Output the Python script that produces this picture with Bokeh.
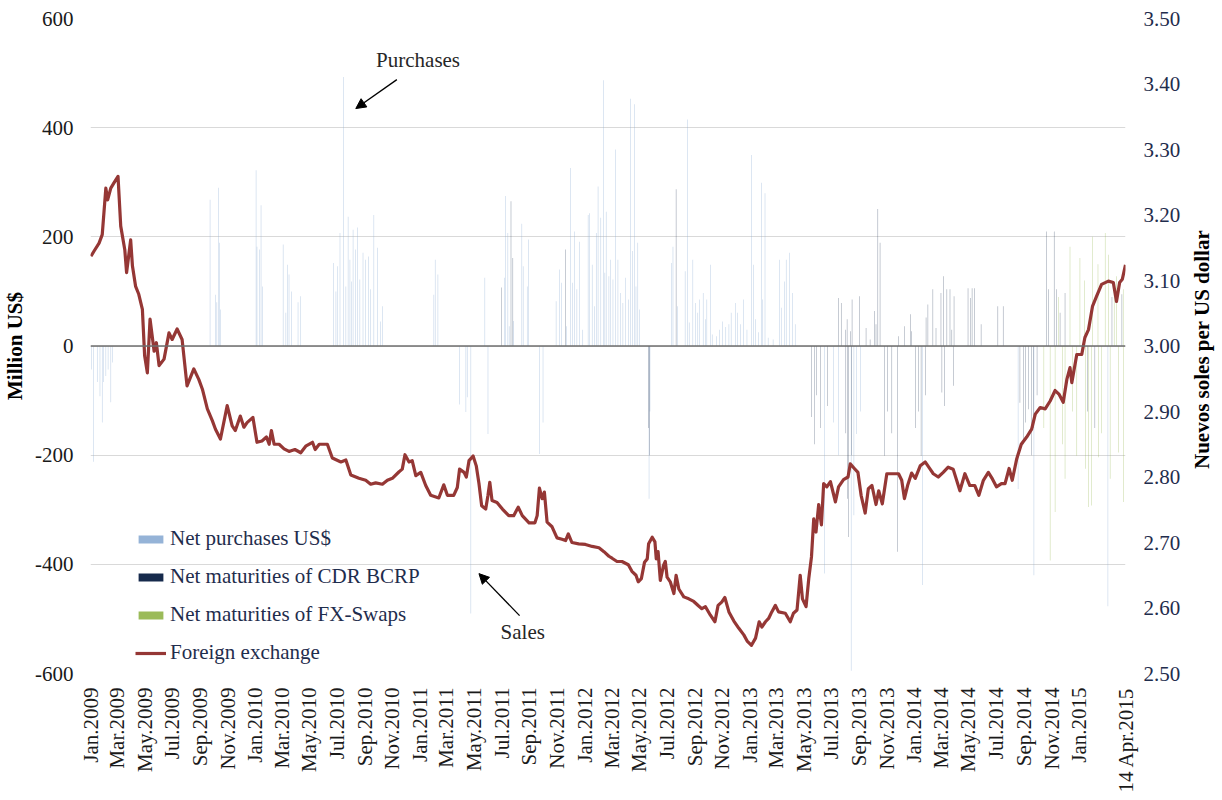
import math
import pandas as pd
from bokeh.plotting import figure
from bokeh.layouts import row
from bokeh.models import (Range1d, LinearAxis, FixedTicker, PrintfTickFormatter,
                          Legend, LegendItem, Label, Arrow, NormalHead, Span)
from bokeh.embed import file_html
from bokeh.resources import INLINE

# ---------------- data ----------------
START = "2009-01-01"
END = "2015-04-14"

x_tick_dates = [
    "2009-01-01", "2009-03-01", "2009-05-01", "2009-07-01", "2009-09-01", "2009-11-01",
    "2010-01-01", "2010-03-01", "2010-05-01", "2010-07-01", "2010-09-01", "2010-11-01",
    "2011-01-01", "2011-03-01", "2011-05-01", "2011-07-01", "2011-09-01", "2011-11-01",
    "2012-01-01", "2012-03-01", "2012-05-01", "2012-07-01", "2012-09-01", "2012-11-01",
    "2013-01-01", "2013-03-01", "2013-05-01", "2013-07-01", "2013-09-01", "2013-11-01",
    "2014-01-01", "2014-03-01", "2014-05-01", "2014-07-01", "2014-09-01", "2014-11-01",
    "2015-01-01", "2015-04-14",
]
x_tick_labels = [
    "Jan.2009", "Mar.2009", "May.2009", "Jul.2009", "Sep.2009", "Nov.2009",
    "Jan.2010", "Mar.2010", "May.2010", "Jul.2010", "Sep.2010", "Nov.2010",
    "Jan.2011", "Mar.2011", "May.2011", "Jul.2011", "Sep.2011", "Nov.2011",
    "Jan.2012", "Mar.2012", "May.2012", "Jul.2012", "Sep.2012", "Nov.2012",
    "Jan.2013", "Mar.2013", "May.2013", "Jul.2013", "Sep.2013", "Nov.2013",
    "Jan.2014", "Mar.2014", "May.2014", "Jul.2014", "Sep.2014", "Nov.2014",
    "Jan.2015", "14 Apr.2015",
]
left_ticks = [-600, -400, -200, 0, 200, 400, 600]
left_tick_labels = ["-600", "-400", "-200", "0", "200", "400", "600"]
right_ticks = [2.5, 2.6, 2.7, 2.8, 2.9, 3.0, 3.1, 3.2, 3.3, 3.4, 3.5]

fx_dates = [
    "2009-01-02", "2009-01-09", "2009-01-20", "2009-01-27", "2009-02-04", "2009-02-08", "2009-02-15", "2009-02-22",
    "2009-03-03", "2009-03-09", "2009-03-18", "2009-03-22", "2009-03-31", "2009-04-04", "2009-04-11", "2009-04-18",
    "2009-04-26", "2009-05-01", "2009-05-07", "2009-05-13", "2009-05-22", "2009-05-27", "2009-06-02", "2009-06-13",
    "2009-06-24", "2009-07-01", "2009-07-12", "2009-07-23", "2009-08-03", "2009-08-18", "2009-08-29", "2009-09-06",
    "2009-09-17", "2009-09-28", "2009-10-05", "2009-10-16", "2009-10-31", "2009-11-11", "2009-11-18", "2009-11-29",
    "2009-12-07", "2009-12-14", "2009-12-27",
    "2010-01-05", "2010-01-16", "2010-01-26", "2010-02-01", "2010-02-06", "2010-02-12", "2010-02-23", "2010-03-06",
    "2010-03-17", "2010-03-30", "2010-04-12", "2010-04-23", "2010-05-08", "2010-05-14", "2010-05-23", "2010-06-10",
    "2010-06-21", "2010-07-10", "2010-07-21", "2010-08-01", "2010-08-19", "2010-09-03", "2010-09-14", "2010-09-25",
    "2010-10-10", "2010-10-21", "2010-11-01", "2010-11-16", "2010-11-23", "2010-11-29", "2010-12-08", "2010-12-15",
    "2010-12-23",
    "2011-01-03", "2011-01-14", "2011-01-25", "2011-02-12", "2011-02-23", "2011-03-03", "2011-03-17", "2011-03-25",
    "2011-03-30", "2011-04-09", "2011-04-14", "2011-04-20", "2011-04-29", "2011-05-06", "2011-05-12", "2011-05-18",
    "2011-05-27", "2011-06-01", "2011-06-05", "2011-06-10", "2011-06-21", "2011-07-03", "2011-07-17", "2011-07-28",
    "2011-08-07", "2011-08-16", "2011-08-31", "2011-09-13", "2011-09-18", "2011-09-23", "2011-09-29", "2011-10-04",
    "2011-10-10", "2011-10-21", "2011-11-01", "2011-11-12", "2011-11-20", "2011-11-26", "2011-12-04", "2011-12-19",
    "2012-01-03", "2012-01-18", "2012-02-02", "2012-02-13", "2012-02-24", "2012-03-02", "2012-03-13", "2012-03-24",
    "2012-04-07", "2012-04-15", "2012-04-24", "2012-04-29", "2012-05-06", "2012-05-13", "2012-05-19", "2012-05-22",
    "2012-05-30", "2012-06-05", "2012-06-08", "2012-06-12", "2012-06-17", "2012-06-24", "2012-06-28", "2012-07-02",
    "2012-07-09", "2012-07-17", "2012-07-22", "2012-07-28", "2012-08-08", "2012-08-19", "2012-08-30", "2012-09-10",
    "2012-09-17", "2012-09-25", "2012-10-06", "2012-10-16", "2012-10-23", "2012-10-31", "2012-11-07", "2012-11-16",
    "2012-11-27", "2012-12-08", "2012-12-19", "2012-12-27",
    "2013-01-05", "2013-01-14", "2013-01-22", "2013-01-28", "2013-02-05", "2013-02-12", "2013-02-19", "2013-02-27",
    "2013-03-06", "2013-03-21", "2013-04-01", "2013-04-08", "2013-04-16", "2013-04-23", "2013-04-28", "2013-05-06",
    "2013-05-12", "2013-05-18", "2013-05-23", "2013-05-28", "2013-06-03", "2013-06-09", "2013-06-14", "2013-06-21",
    "2013-06-29", "2013-07-04", "2013-07-10", "2013-07-17", "2013-07-28", "2013-08-07", "2013-08-12", "2013-08-21",
    "2013-08-29", "2013-09-05", "2013-09-14", "2013-09-21", "2013-09-29", "2013-10-08", "2013-10-14", "2013-10-22",
    "2013-11-01", "2013-11-12", "2013-11-27", "2013-12-04", "2013-12-10", "2013-12-17", "2013-12-26",
    "2014-01-03", "2014-01-14", "2014-01-25", "2014-02-05", "2014-02-12", "2014-02-23", "2014-03-06", "2014-03-17",
    "2014-03-28", "2014-04-12", "2014-04-23", "2014-05-04", "2014-05-15", "2014-05-24", "2014-06-03", "2014-06-14",
    "2014-06-23", "2014-07-02", "2014-07-13", "2014-07-21", "2014-07-30", "2014-08-06", "2014-08-16", "2014-08-26",
    "2014-09-07", "2014-09-18", "2014-09-26", "2014-10-07", "2014-10-18", "2014-10-29", "2014-11-09", "2014-11-18",
    "2014-11-27", "2014-12-05", "2014-12-12", "2014-12-16", "2014-12-27",
    "2015-01-07", "2015-01-14", "2015-01-22", "2015-01-31", "2015-02-09", "2015-02-20", "2015-03-07", "2015-03-18",
    "2015-03-25", "2015-04-01", "2015-04-07", "2015-04-14",
]
fx_values = [
    3.137, 3.145, 3.157, 3.170, 3.241, 3.223, 3.241, 3.249,
    3.259, 3.183, 3.147, 3.112, 3.162, 3.122, 3.091, 3.079,
    3.056, 2.985, 2.959, 3.041, 2.992, 3.005, 2.970, 2.980,
    3.020, 3.010, 3.026, 3.010, 2.939, 2.965, 2.949, 2.934,
    2.904, 2.886, 2.873, 2.858, 2.909, 2.878, 2.871, 2.893,
    2.876, 2.883, 2.891,
    2.853, 2.855, 2.861, 2.850, 2.871, 2.850, 2.850, 2.843,
    2.839, 2.842, 2.837, 2.847, 2.853, 2.842, 2.850, 2.850,
    2.829, 2.823, 2.826, 2.803, 2.798, 2.795, 2.789, 2.791,
    2.789, 2.795, 2.798, 2.808, 2.812, 2.834, 2.823, 2.825,
    2.802,
    2.807, 2.787, 2.772, 2.768, 2.788, 2.772, 2.772, 2.784,
    2.812, 2.807, 2.800, 2.825, 2.832, 2.817, 2.790, 2.756,
    2.751, 2.772, 2.792, 2.764, 2.761, 2.751, 2.741, 2.741,
    2.754, 2.741, 2.730, 2.730, 2.741, 2.783, 2.767, 2.777,
    2.731, 2.724, 2.707, 2.705, 2.703, 2.713, 2.700, 2.698,
    2.697, 2.694, 2.692, 2.686, 2.679, 2.676, 2.671, 2.671,
    2.666, 2.656, 2.650, 2.640, 2.645, 2.670, 2.675, 2.698,
    2.708, 2.701, 2.675, 2.686, 2.642, 2.665, 2.671, 2.647,
    2.640, 2.622, 2.650, 2.629, 2.617, 2.614, 2.610, 2.603,
    2.599, 2.602, 2.589, 2.579, 2.604, 2.609, 2.616, 2.594,
    2.580, 2.569, 2.559, 2.549,
    2.543, 2.554, 2.579, 2.571, 2.579, 2.584, 2.594, 2.604,
    2.594, 2.592, 2.579, 2.592, 2.597, 2.650, 2.614, 2.602,
    2.645, 2.678, 2.736, 2.716, 2.758, 2.727, 2.790, 2.785,
    2.793, 2.779, 2.762, 2.785, 2.796, 2.800, 2.820, 2.813,
    2.807, 2.772, 2.745, 2.782, 2.787, 2.758, 2.779, 2.759,
    2.805, 2.805, 2.805, 2.795, 2.767, 2.787, 2.806,
    2.798, 2.817, 2.823, 2.812, 2.805, 2.800, 2.807, 2.815,
    2.812, 2.779, 2.805, 2.787, 2.787, 2.772, 2.795, 2.807,
    2.797, 2.785, 2.790, 2.790, 2.813, 2.795, 2.828, 2.850,
    2.861, 2.873, 2.896, 2.906, 2.904, 2.916, 2.932, 2.926,
    2.914, 2.949, 2.967, 2.944, 2.987,
    2.987, 3.013, 3.025, 3.061, 3.076, 3.094, 3.099, 3.097,
    3.068, 3.097, 3.102, 3.124,
]

purchase_dates = [
    "2009-01-03", "2009-01-08", "2009-01-16", "2009-01-22", "2009-01-27", "2009-01-30", "2009-02-04", "2009-02-09",
    "2009-02-15", "2009-02-19", "2009-09-23", "2009-10-05", "2009-10-08", "2009-10-12", "2009-10-14", "2009-10-16",
    "2010-01-03", "2010-01-05", "2010-01-11", "2010-01-14", "2010-01-17", "2010-03-04", "2010-03-10", "2010-03-14",
    "2010-03-17", "2010-03-22", "2010-04-06", "2010-04-12", "2010-06-24", "2010-06-29", "2010-07-03", "2010-07-08",
    "2010-07-16", "2010-07-21", "2010-07-26", "2010-07-30", "2010-08-03", "2010-08-06", "2010-08-11", "2010-08-16",
    "2010-08-21", "2010-08-28", "2010-09-03", "2010-09-09", "2010-09-14", "2010-09-21", "2010-09-29", "2010-10-06",
    "2010-10-10", "2011-02-01", "2011-02-04", "2011-02-10", "2011-03-30", "2011-04-13", "2011-04-16", "2011-04-24",
    "2011-05-25", "2011-06-01", "2011-07-08", "2011-07-10", "2011-07-15", "2011-07-18", "2011-07-28", "2011-08-15",
    "2011-08-18", "2011-08-27", "2011-08-30", "2011-09-23", "2011-10-01", "2011-10-30", "2011-11-06", "2011-11-11",
    "2011-11-22", "2011-12-01", "2011-12-05", "2011-12-10", "2011-12-15", "2011-12-21", "2011-12-28", "2012-01-09",
    "2012-01-12", "2012-01-18", "2012-01-23", "2012-01-27", "2012-01-31", "2012-02-06", "2012-02-12", "2012-02-15",
    "2012-02-18", "2012-02-24", "2012-02-28", "2012-03-04", "2012-03-10", "2012-03-15", "2012-03-21", "2012-03-26",
    "2012-04-01", "2012-04-07", "2012-04-12", "2012-04-16", "2012-04-21", "2012-04-24", "2012-04-28", "2012-05-02",
    "2012-05-23", "2012-05-25", "2012-07-12", "2012-07-15", "2012-07-25", "2012-08-11", "2012-08-16", "2012-08-20",
    "2012-08-28", "2012-09-03", "2012-09-08", "2012-09-12", "2012-09-20", "2012-09-25", "2012-09-28", "2012-10-06",
    "2012-10-10", "2012-10-19", "2012-10-26", "2012-11-02", "2012-11-09", "2012-11-16", "2012-11-21", "2012-12-01",
    "2012-12-05", "2012-12-12", "2012-12-18", "2012-12-26", "2013-01-05", "2013-01-09", "2013-01-14", "2013-01-21",
    "2013-01-27", "2013-01-30", "2013-02-04", "2013-02-11", "2013-02-22", "2013-03-08", "2013-03-12", "2013-03-19",
    "2013-03-23", "2013-03-30", "2013-04-06", "2013-04-12", "2013-06-16", "2013-07-06", "2013-07-17", "2013-08-14",
    "2013-08-20", "2013-08-26", "2013-09-04", "2014-01-19", "2014-08-19", "2014-09-23", "2015-03-06",
]
purchase_values = [
    -43, -212, -66, -92, -140, -66, -55, -43,
    -103, -30, 268, 94, 80, 290, 189, 67,
    322, 182, 177, 258, 109, 186, 61, 149,
    131, 100, 80, 91, 152, 100, 146, 207,
    493, 109, 237, 158, 118, 213, 177, 217,
    122, 171, 158, 164, 104, 240, 180, 45,
    73, 94, 158, 131, -107, -121, -94, -490,
    125, -161, 125, 275, 207, 36, 46, 224,
    146, 109, 195, -198, -140, 82, 140, 116,
    36, 326, 116, 210, 104, 191, 30, 240,
    243, 149, 73, 207, 292, 235, 487, 134,
    246, 128, 158, 122, 360, 158, 97, 79,
    125, 85, 453, 174, 443, 109, 189, 67,
    -280, -120, 152, 182, 73, 137, 415, 43,
    158, 79, 61, 85, 97, 49, 85, 149,
    21, 18, 30, 45, 35, 40, 61, 79,
    61, 40, 85, 30, 350, 149, 49, 25,
    299, 85, 280, 15, 12, 158, 70, 118,
    158, 171, 97, 40, -417, -140, -200, -595,
    -310, -161, -120, -438, -262, -420, -477,
]

cdr_dates = [
    "2011-07-01", "2011-07-22", "2011-07-26", "2011-11-20", "2012-05-22", "2012-05-24", "2012-07-22", "2013-05-18",
    "2013-05-25", "2013-05-29", "2013-06-07", "2013-06-23", "2013-07-17", "2013-07-23", "2013-08-01", "2013-08-02",
    "2013-08-05", "2013-08-06", "2013-08-08", "2013-08-12", "2013-08-15", "2013-08-16", "2013-09-01", "2013-09-16",
    "2013-09-25", "2013-10-05", "2013-10-08", "2013-10-12", "2013-10-17", "2013-10-27", "2013-11-03", "2013-11-12",
    "2013-11-25", "2013-11-27", "2013-12-10", "2013-12-23", "2013-12-26", "2014-01-04", "2014-01-10", "2014-01-16",
    "2014-01-26", "2014-01-27", "2014-01-31", "2014-02-11", "2014-02-18", "2014-03-01", "2014-03-03", "2014-03-07",
    "2014-03-09", "2014-03-14", "2014-03-21", "2014-03-25", "2014-03-29", "2014-03-30", "2014-04-30", "2014-05-05",
    "2014-05-09", "2014-05-14", "2014-05-29", "2014-07-05", "2014-07-17", "2014-08-23", "2014-08-31", "2014-09-04",
    "2014-09-11", "2014-09-18", "2014-09-22", "2014-09-30", "2014-10-21", "2014-10-25", "2014-11-07", "2014-11-12",
    "2014-11-20", "2014-12-01", "2015-01-20", "2015-02-05", "2015-03-15", "2015-04-06",
]
cdr_values = [
    107, 265, 161, 177, -150, -200, 287, -130,
    -180, -90, -150, -110, 88, 79, 30, -160,
    49, -280, -350, 27, -200, 85, 91, 33,
    12, 64, 40, 251, 189, -201, -120, -160,
    -377, 18, 36, 58, 27, -150, -120, -201,
    -90, 52, 76, 104, 33, 97, -85, 128,
    -110, 104, 104, 30, -73, 91, 106, 88,
    106, 106, 40, 73, 73, -104, -180, -140,
    -116, -200, -150, -90, 210, 104, 210, 104,
    61, 97, -120, -150, 90, 95,
]

swap_dates = [
    "2014-10-15", "2014-10-29", "2014-11-09", "2014-11-16", "2014-11-25", "2014-12-01", "2014-12-12", "2014-12-18",
    "2014-12-27", "2015-01-03", "2015-01-13", "2015-01-15", "2015-01-22", "2015-01-29", "2015-01-31", "2015-02-12",
    "2015-02-13", "2015-02-20", "2015-02-28", "2015-03-07", "2015-03-11", "2015-03-20", "2015-03-25", "2015-03-29",
    "2015-04-09", "2015-04-10",
]
swap_values = [
    -150, -393, -304, 90, -180, -243, 182, -120,
    -201, 161, 120, -225, -295, -292, 200, 150,
    -204, -160, 207, 167, -243, 100, 128, -195,
    104, -286,
]

assert len(fx_dates) == len(fx_values)
assert len(purchase_dates) == len(purchase_values)
assert len(cdr_dates) == len(cdr_values)
assert len(swap_dates) == len(swap_values)


def to_days(dates):
    base = pd.Timestamp(START)
    return [(pd.Timestamp(d) - base).days for d in dates]


FONT = "Liberation Serif"
FS = "21px"
C_PURCH = "#95b3d7"
C_CDR = "#162a4c"
C_SWAP = "#9bbb59"
C_FX = "#953735"
H = 795

p = figure(width=1183, height=H, output_backend="svg", toolbar_location=None,
           x_range=Range1d(0, to_days([END])[0]), y_range=Range1d(-600, 600),
           min_border_left=0, min_border_right=56, min_border_top=18, min_border_bottom=120)
p.outline_line_color = None
p.extra_y_ranges = {"fx": Range1d(2.5, 3.5)}

# grid
p.xgrid.grid_line_color = None
p.ygrid.ticker = FixedTicker(ticks=left_ticks)
p.ygrid.grid_line_color = "#d9d9d9"
p.ygrid.grid_line_width = 1

# left axis
la = p.yaxis[0]
la.ticker = FixedTicker(ticks=left_ticks)
la.major_label_overrides = {float(t): s for t, s in zip(left_ticks, left_tick_labels)}
la.axis_line_color = None
la.major_tick_line_color = None
la.minor_tick_line_color = None
la.major_tick_out = 0
la.major_label_text_font = FONT
la.major_label_text_font_size = FS
la.major_label_text_color = "#1a1a1a"
la.major_label_standoff = 17
la.axis_label = "Million US$"
la.axis_label_text_font = FONT
la.axis_label_text_font_size = FS
la.axis_label_text_font_style = "bold"
la.axis_label_text_color = "#000000"
la.axis_label_standoff = 5

# right axis (ticks only)
ra = LinearAxis(y_range_name="fx", ticker=FixedTicker(ticks=right_ticks),
                formatter=PrintfTickFormatter(format="%.2f"))
ra.axis_line_color = None
ra.major_tick_line_color = None
ra.minor_tick_line_color = None
ra.major_tick_out = 0
ra.major_label_text_font = FONT
ra.major_label_text_font_size = FS
ra.major_label_text_color = "#1f2d4d"
ra.major_label_standoff = 18
p.add_layout(ra, "right")

# bottom axis
xa = p.xaxis[0]
tick_days = to_days(x_tick_dates)
xa.ticker = FixedTicker(ticks=tick_days)
xa.major_label_overrides = {float(d): lab for d, lab in zip(tick_days, x_tick_labels)}
xa.major_label_orientation = math.pi / 2
xa.axis_line_color = None
xa.major_tick_line_color = None
xa.minor_tick_line_color = None
xa.major_tick_out = 0
xa.major_label_text_font = FONT
xa.major_label_text_font_size = FS
xa.major_label_text_color = "#1a1a1a"
xa.major_label_standoff = 14

# bars (daily, thin)
BAR_W = 1.2
r_p = p.vbar(x=to_days(purchase_dates), top=purchase_values, bottom=0, width=BAR_W,
             fill_color=C_PURCH, fill_alpha=0.6, line_color=None)
r_c = p.vbar(x=to_days(cdr_dates), top=cdr_values, bottom=0, width=BAR_W,
             fill_color=C_CDR, fill_alpha=0.45, line_color=None)
r_s = p.vbar(x=to_days(swap_dates), top=swap_values, bottom=0, width=BAR_W,
             fill_color=C_SWAP, fill_alpha=0.55, line_color=None)

# legend swatches: same data, solid colours, not drawn in the plot
lg_p = p.vbar(x=to_days(purchase_dates), top=purchase_values, width=BAR_W,
              fill_color=C_PURCH, line_color=None, visible=False)
lg_c = p.vbar(x=to_days(cdr_dates), top=cdr_values, width=BAR_W,
              fill_color=C_CDR, line_color=None, visible=False)
lg_s = p.vbar(x=to_days(swap_dates), top=swap_values, width=BAR_W,
              fill_color=C_SWAP, line_color=None, visible=False)

zero = Span(location=0, dimension="width", line_color="#6e6e6e", line_width=1.5, level="glyph")
p.add_layout(zero)

r_fx = p.line(x=to_days(fx_dates), y=fx_values, y_range_name="fx",
              line_color=C_FX, line_width=3.2, line_join="round")

legend = Legend(items=[
    LegendItem(label="Net purchases US$", renderers=[lg_p]),
    LegendItem(label="Net maturities of CDR BCRP", renderers=[lg_c]),
    LegendItem(label="Net maturities of FX-Swaps", renderers=[lg_s]),
    LegendItem(label="Foreign exchange", renderers=[r_fx]),
], location=(45, 8))
legend.label_text_font = FONT
legend.label_text_font_size = FS
legend.label_text_color = "#1f2d4d"
legend.glyph_width = 31
legend.glyph_height = 10
legend.label_height = 24
legend.spacing = 13
legend.label_standoff = 4
legend.padding = 0
legend.margin = 0
legend.border_line_color = None
legend.background_fill_alpha = 0
p.add_layout(legend)

# annotations
p.add_layout(Label(x=726, y=524, text="Purchases", text_align="center", text_baseline="middle",
                   text_font=FONT, text_font_size=FS, text_color="#262626"))
p.add_layout(Arrow(end=NormalHead(size=10, fill_color="black", line_color="black"),
                   x_start=679, y_start=488, x_end=588, y_end=435,
                   line_color="black", line_width=1.3))
p.add_layout(Label(x=958, y=-524, text="Sales", text_align="center", text_baseline="middle",
                   text_font=FONT, text_font_size=FS, text_color="#262626"))
p.add_layout(Arrow(end=NormalHead(size=10, fill_color="black", line_color="black"),
                   x_start=951, y_start=-494, x_end=861, y_end=-417,
                   line_color="black", line_width=1.3))

# right-hand axis title in a narrow companion panel (reads bottom-to-top);
# its frame is aligned with the main plot frame, so share the same y scale.
TW = 36
t = figure(width=TW, height=H, output_backend="svg", toolbar_location=None,
           x_range=Range1d(0, TW), y_range=Range1d(-600, 600),
           x_axis_location=None, y_axis_location=None, min_border=0)
t.outline_line_color = None
t.grid.grid_line_color = None
t.add_layout(Label(x=TW / 2, y=-1.5, text="Nuevos soles  per US dollar",
                   angle=math.pi / 2, text_align="center", text_baseline="middle",
                   text_font=FONT, text_font_size=FS, text_font_style="bold", text_color="#000000"))

layout = row(p, t, spacing=0)
open("out.html", "w").write(file_html(layout, INLINE))
